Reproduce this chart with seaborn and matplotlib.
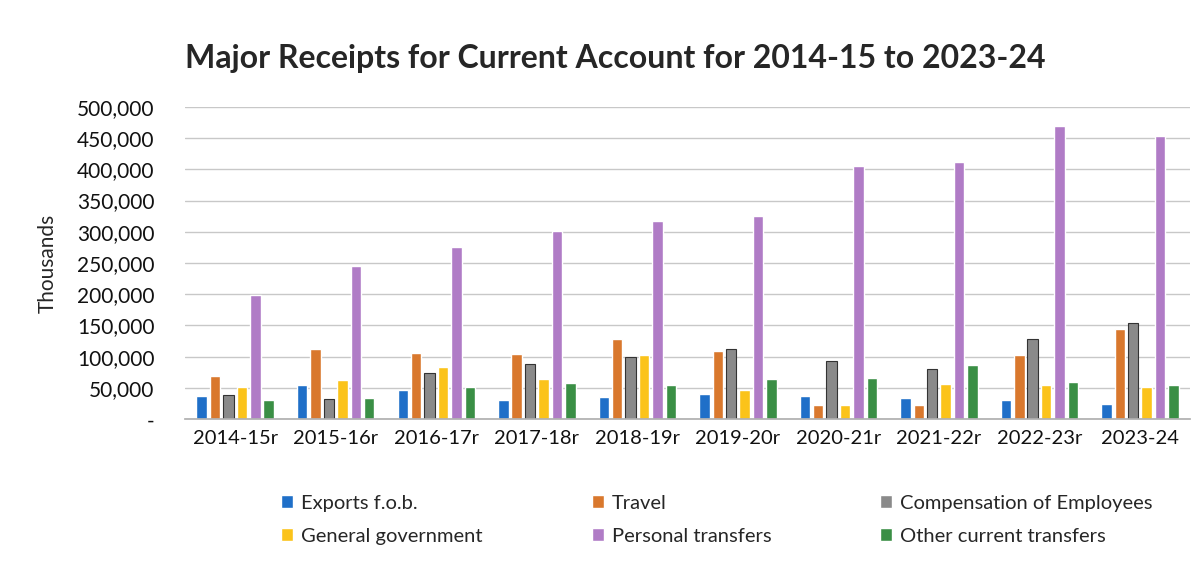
import matplotlib
matplotlib.use("Agg")
import matplotlib.pyplot as plt
import matplotlib.ticker as mticker
import pandas as pd
import seaborn as sns

years = ["2014-15r", "2015-16r", "2016-17r", "2017-18r", "2018-19r",
         "2019-20r", "2020-21r", "2021-22r", "2022-23r", "2023-24"]
exports = [37, 55, 46, 31, 35, 41, 37, 34, 30, 25]
travel = [69, 113, 106, 104, 128, 109, 22, 22, 103, 145]
compensation = [38, 33, 74, 89, 100, 112, 93, 80, 129, 154]
general_gov = [52, 63, 83, 64, 102, 46, 23, 56, 54, 52]
personal = [199, 245, 275, 302, 318, 326, 406, 411, 469, 454]
other = [31, 34, 51, 58, 55, 64, 66, 87, 60, 55]

series = {
    "Exports f.o.b.": exports,
    "Travel": travel,
    "Compensation of Employees": compensation,
    "General government": general_gov,
    "Personal transfers": personal,
    "Other current transfers": other,
}
colors = ["#1f6fc8", "#d9782d", "#8a8a8a", "#fbc31a", "#b07cc6", "#3a8f45"]

rows = []
for name, vals in series.items():
    for yr, v in zip(years, vals):
        rows.append({"year": yr, "series": name, "value": v * 1000})
df = pd.DataFrame(rows)

sns.set_theme(style="white")
plt.rcParams["font.family"] = ["Lato", "DejaVu Sans"]

fig = plt.figure(figsize=(12.01, 5.65), dpi=100)
ax = fig.add_axes([0.154, 0.258, 0.837, 0.553])

sns.barplot(data=df, x="year", y="value", hue="series", palette=colors,
            saturation=1, width=0.8, gap=0.22, ax=ax, legend=True)

for bar in ax.containers[2]:
    bar.set_edgecolor("#333333")
    bar.set_linewidth(0.8)

ax.set_ylim(0, 500000)
ax.set_yticks(range(0, 500001, 50000))
ax.yaxis.set_major_formatter(mticker.FuncFormatter(
    lambda v, p: "-" if v == 0 else f"{int(v):,}"))
ax.grid(axis="y", color="#c8c8c8", linewidth=1)
ax.set_axisbelow(True)
for s in ["top", "right", "left"]:
    ax.spines[s].set_visible(False)
ax.spines["bottom"].set_color("#b0b0b0")
ax.tick_params(axis="y", labelsize=15, colors="#111111", length=0, pad=22)
ax.tick_params(axis="x", labelsize=14.5, colors="#111111", length=0, pad=8)
ax.set_xlabel("")
ax.set_ylabel("Thousands", fontsize=15, labelpad=14)

ax.set_title("Major Receipts for Current Account for 2014-15 to 2023-24",
             fontsize=23, fontweight="bold", loc="left", x=0.0, pad=28)

handles, labels = ax.get_legend_handles_labels()
ax.get_legend().remove()
order = [0, 3, 1, 4, 2, 5]
fig.legend([handles[i] for i in order], [labels[i] for i in order],
           loc="center", bbox_to_anchor=(0.597, 0.08), ncol=3, frameon=False,
           fontsize=14.5, handlelength=0.6, handleheight=0.6, handletextpad=0.4,
           columnspacing=5.4, labelspacing=0.8)

fig.savefig("out.png", dpi=100)
